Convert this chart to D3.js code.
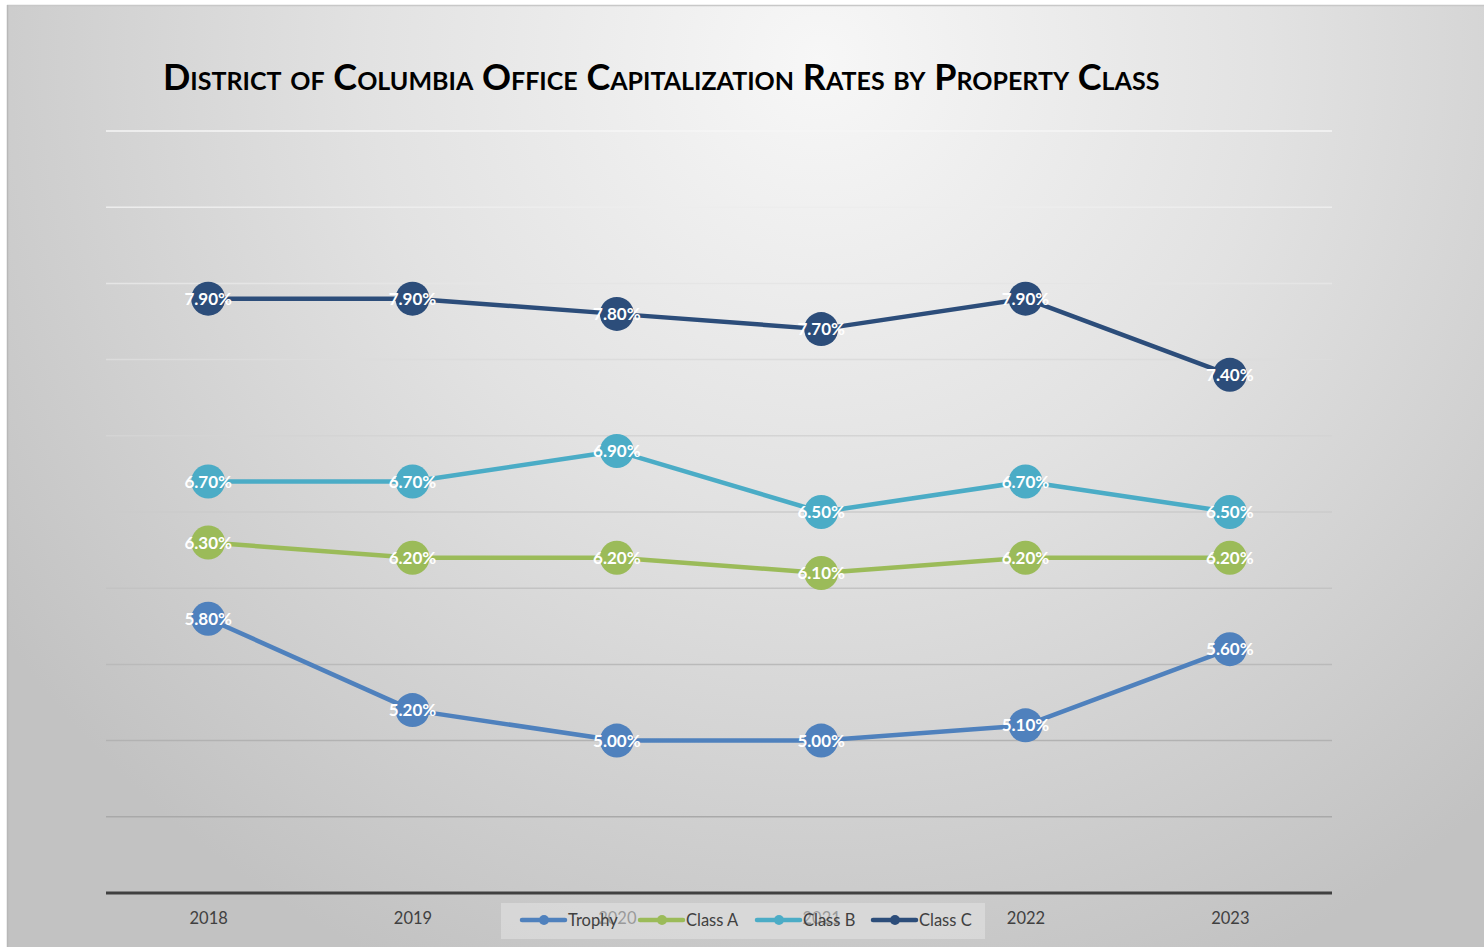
<!DOCTYPE html>
<html>
<head>
<meta charset="utf-8">
<script src="https://cdn.jsdelivr.net/npm/d3@7"></script>
<style>
    body { margin: 0; background: #fff; }
    svg { display: block; }
</style>
</head>
<body>
<div id="chart"></div>
<script>
var years = ["2018", "2019", "2020", "2021", "2022", "2023"];
var seriesNames = ["Trophy", "Class A", "Class B", "Class C"];
var trophy = [5.8, 5.2, 5.0, 5.0, 5.1, 5.6];
var classA = [6.3, 6.2, 6.2, 6.1, 6.2, 6.2];
var classB = [6.7, 6.7, 6.9, 6.5, 6.7, 6.5];
var classC = [7.9, 7.9, 7.8, 7.7, 7.9, 7.4];
var yTicks = [4.0, 4.5, 5.0, 5.5, 6.0, 6.5, 7.0, 7.5, 8.0, 8.5, 9.0];
var colors = ["#4f81bd", "#9bbb59", "#4bacc6", "#2c4d7a"];

var W = 1484, H = 947;
var plot = {left: 106, right: 1332, top: 131, bottom: 893};

var series = [trophy, classA, classB, classC].map(function(vals, i) {
    return {name: seriesNames[i], color: colors[i], values: vals};
});

var svg = d3.select("#chart").append("svg")
    .attr("width", W)
    .attr("height", H);

// background gradient
var defs = svg.append("defs");
var grad = defs.append("radialGradient")
    .attr("id", "bg")
    .attr("gradientUnits", "userSpaceOnUse")
    .attr("cx", 820).attr("cy", 60).attr("r", 1000);
grad.append("stop").attr("offset", "0%").attr("stop-color", "#f7f7f7");
grad.append("stop").attr("offset", "45%").attr("stop-color", "#e2e2e2");
grad.append("stop").attr("offset", "100%").attr("stop-color", "#c2c2c2");

svg.append("rect")
    .attr("x", 7).attr("y", 5)
    .attr("width", W - 7).attr("height", H - 5)
    .attr("fill", "url(#bg)");
svg.append("line")
    .attr("x1", 7).attr("x2", W).attr("y1", 5.5).attr("y2", 5.5)
    .attr("stroke", "#c8c8c8").attr("stroke-width", 1.5);
svg.append("line")
    .attr("x1", 7.5).attr("x2", 7.5).attr("y1", 5).attr("y2", H)
    .attr("stroke", "#b8b8b8").attr("stroke-width", 1.5);

// title
var title = svg.append("text")
    .attr("x", 163).attr("y", 90)
    .attr("font-family", "Lato, 'Open Sans', sans-serif")
    .attr("font-weight", "bold")
    .attr("font-size", 30)
    .style("font-variant", "small-caps")
    .attr("fill", "#000")
    .text("District of Columbia Office Capitalization Rates by Property Class");
var tw = title.node().getComputedTextLength();
title.attr("font-size", 30 * 1002 / tw);

var x = d3.scalePoint()
    .domain(years)
    .range([plot.left, plot.right])
    .padding(0.5);

var y = d3.scaleLinear()
    .domain([4.0, 9.0])
    .range([plot.bottom, plot.top]);

var gridColor = d3.scaleLinear()
    .domain([plot.top, plot.bottom - 76])
    .range(["#f6f6f6", "#a9a9a9"]);

// gridlines
svg.append("g")
    .selectAll("line")
    .data(yTicks.filter(function(d) { return d > 4.0; }))
    .enter()
    .append("line")
        .attr("x1", plot.left).attr("x2", plot.right)
        .attr("y1", function(d) { return y(d); })
        .attr("y2", function(d) { return y(d); })
        .attr("stroke", function(d) { return gridColor(y(d)); })
        .attr("stroke-width", 1.5);

// x axis
var xAxis = svg.append("g")
    .attr("transform", "translate(0," + plot.bottom + ")")
    .call(d3.axisBottom(x).tickSize(0).tickPadding(19));
xAxis.select(".domain")
    .attr("stroke", "#404040")
    .attr("stroke-width", 3)
    .attr("d", "M" + plot.left + ",0H" + plot.right);
xAxis.selectAll("text")
    .attr("font-family", "Lato, 'Open Sans', sans-serif")
    .attr("font-size", 16.5)
    .attr("fill", "#404040");

// lines
var line = d3.line()
    .x(function(d, i) { return x(years[i]); })
    .y(function(d) { return y(d); });

var groups = svg.selectAll(".series")
    .data(series)
    .enter()
    .append("g")
        .attr("class", "series");

groups.append("path")
    .attr("d", function(d) { return line(d.values); })
    .attr("fill", "none")
    .attr("stroke", function(d) { return d.color; })
    .attr("stroke-width", 4.5)
    .attr("stroke-linejoin", "round");

groups.selectAll("circle")
    .data(function(d) { return d.values.map(function(v, i) { return {v: v, i: i, color: d.color}; }); })
    .enter()
    .append("circle")
        .attr("cx", function(d) { return x(years[d.i]); })
        .attr("cy", function(d) { return y(d.v); })
        .attr("r", 17)
        .attr("fill", function(d) { return d.color; });

groups.selectAll(".lbl")
    .data(function(d) { return d.values.map(function(v, i) { return {v: v, i: i}; }); })
    .enter()
    .append("text")
        .attr("class", "lbl")
        .attr("x", function(d) { return x(years[d.i]); })
        .attr("y", function(d) { return y(d.v); })
        .attr("dy", "0.36em")
        .attr("text-anchor", "middle")
        .attr("font-family", "Lato, 'Open Sans', sans-serif")
        .attr("font-weight", "bold")
        .attr("font-size", 17)
        .attr("fill", "#fff")
        .text(function(d) { return d.v.toFixed(2) + "%"; });

// legend (sits over the middle tick labels, as in the original)
var legend = svg.append("g");
legend.append("rect")
    .attr("x", 501).attr("y", 903)
    .attr("width", 484).attr("height", 36)
    .attr("fill", "#e4e4e4")
    .attr("fill-opacity", 0.55);

var legendX = [522, 640, 757, 873];
var items = legend.selectAll(".item")
    .data(series)
    .enter()
    .append("g")
        .attr("class", "item")
        .attr("transform", function(d, i) { return "translate(" + legendX[i] + ",920)"; });

items.append("line")
    .attr("x1", 0).attr("x2", 43)
    .attr("stroke", function(d) { return d.color; })
    .attr("stroke-width", 4.5)
    .attr("stroke-linecap", "round");
items.append("circle")
    .attr("cx", 22).attr("r", 5)
    .attr("fill", function(d) { return d.color; });
items.append("text")
    .attr("x", 46)
    .attr("dy", "0.36em")
    .attr("font-family", "Lato, 'Open Sans', sans-serif")
    .attr("font-size", 16.5)
    .attr("fill", "#404040")
    .text(function(d) { return d.name; });
</script>
</body>
</html>
